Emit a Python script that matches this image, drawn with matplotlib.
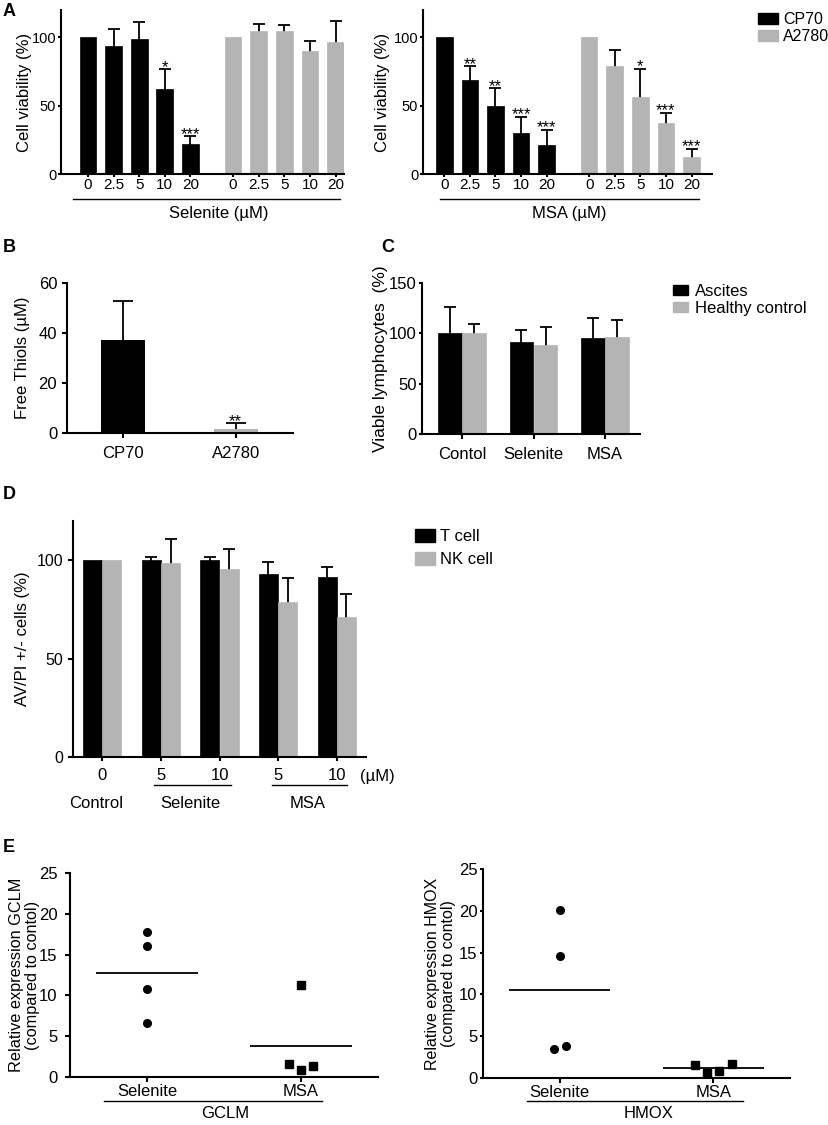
import numpy as np
import matplotlib
matplotlib.use("Agg")
import matplotlib.pyplot as plt
from matplotlib.patches import Patch

plt.rcParams['font.family'] = ['Liberation Sans', 'DejaVu Sans']

W, H = 829, 1125
DPI = 100
BLACK = "#000000"
GREY = "#b4b4b4"

# ---- A: cell viability, selenite / MSA ----
doses = ["0", "2.5", "5", "10", "20"]
selenite_cp70 = [100, 94, 99, 62, 22]
selenite_cp70_sd = [0, 12, 12, 14.5, 5.5]
selenite_a2780 = [100, 105, 105, 90, 96.5]
selenite_a2780_sd = [0, 4.5, 4, 7, 15.5]
selenite_cp70_sig = ["", "", "", "*", "***"]
selenite_a2780_sig = ["", "", "", "", ""]

msa_cp70 = [100, 69, 50, 30, 21]
msa_cp70_sd = [0, 10, 13, 12, 11.5]
msa_a2780 = [100, 79, 56, 37, 12.5]
msa_a2780_sd = [0, 11.5, 21, 8, 6]
msa_cp70_sig = ["", "**", "**", "***", "***"]
msa_a2780_sig = ["", "", "*", "***", "***"]

# ---- B: free thiols ----
thiol_lines = ["CP70", "A2780"]
thiol_vals = [37, 1.5]
thiol_sd = [16, 2.5]
thiol_sig = ["", "**"]

# ---- C: viable lymphocytes ----
lymph_groups = ["Contol", "Selenite", "MSA"]
ascites = [100, 91.5, 95.5]
ascites_sd = [26, 11.5, 19.5]
healthy = [100, 88.5, 96.5]
healthy_sd = [9, 17.5, 16.5]

# ---- D: AV/PI ----
d_ticks = ["0", "5", "10", "5", "10"]
t_cell = [100, 100, 100, 93.3, 91.3]
t_cell_sd = [0, 1.5, 1.5, 5.8, 5.5]
nk_cell = [100, 98.7, 95.7, 78.8, 71]
nk_cell_sd = [0, 12, 10, 12.4, 12]

# ---- E: relative expression ----
e_groups = ["Selenite", "MSA"]
gclm_selenite = [17.8, 16.0, 10.8, 6.6]
gclm_msa = [11.3, 1.55, 0.8, 1.35]
hmox_selenite = [20.1, 14.6, 3.5, 3.8]
hmox_msa = [1.5, 0.55, 0.85, 1.65]
# small horizontal spread of the dots (layout only)
gclm_sel_dx = [0, 0, 0, 0]
gclm_msa_dx = [0, -0.08, 0, 0.08]
hmox_sel_dx = [0, 0, -0.04, 0.04]
hmox_msa_dx = [-0.12, -0.04, 0.04, 0.12]

fig = plt.figure(figsize=(W / DPI, H / DPI), dpi=DPI)


def px_axes(left, right, top, bottom):
    return fig.add_axes([left / W, 1 - bottom / H, (right - left) / W, (bottom - top) / H])


def axes_y(ax, y_px):
    pos = ax.get_position()
    return ((1 - y_px / H) - pos.y0) / pos.height


def style(ax, lw=1.5):
    ax.spines[["top", "right"]].set_visible(False)
    ax.spines[["left", "bottom"]].set_linewidth(lw)
    ax.tick_params(width=lw, color="black")


def bars(ax, x, vals, sd, color, width, capsize=4):
    x = np.asarray(x, float)
    vals = np.asarray(vals, float)
    sd = np.asarray(sd, float)
    ax.bar(x, vals, width, color=color, edgecolor=color, linewidth=0.5, zorder=2)
    m = sd > 0
    # lower half sits behind the bar, so only the upper whisker shows
    ax.errorbar(x[m], vals[m], yerr=sd[m], fmt="none", ecolor="black", elinewidth=1.3,
                capsize=capsize, capthick=1.3, zorder=1)


def stars(ax, x, vals, sd, marks, fs=12):
    for xi, v, s, mk in zip(x, vals, sd, marks):
        if mk:
            ax.annotate(mk, (xi, v + s), xytext=(0, -2), textcoords="offset points",
                        ha="center", va="baseline", fontsize=fs)


def under_line(ax, x0, x1, y_px, lw=1.0):
    y = axes_y(ax, y_px)
    ax.plot([x0, x1], [y, y], color="black", lw=lw,
            transform=ax.get_xaxis_transform(), clip_on=False)


def under_text(ax, x, y_px, s, fs=12, ha="center"):
    ax.text(x, axes_y(ax, y_px), s, transform=ax.get_xaxis_transform(),
            ha=ha, va="center", fontsize=fs)


def ylabel(ax, s, x_px, fs=12):
    ax.set_ylabel(s, fontsize=fs, linespacing=1.05)
    pos = ax.get_position()
    ax.yaxis.set_label_coords((x_px / W - pos.x0) / pos.width, 0.5)


def letter(s, x_px, y_px):
    fig.text(x_px / W, 1 - y_px / H, s, fontsize=13, fontweight="bold", va="center", ha="left")


# ================= A =================
pos_a = np.r_[np.arange(5), np.arange(5) + 5.66]
panels_a = [
    dict(rect=(61, 344, 10, 174), xlim=(-1.05, 9.99), cp=selenite_cp70, cp_sd=selenite_cp70_sd,
         a2=selenite_a2780, a2_sd=selenite_a2780_sd, cp_sig=selenite_cp70_sig,
         a2_sig=selenite_a2780_sig, name="Selenite (\u00b5M)", line=(-0.6, pos_a[-1] + 0.17),
         name_x=5.1, lab_x=32),
    dict(rect=(423, 712, 10, 174), xlim=(-0.83, 10.46), cp=msa_cp70, cp_sd=msa_cp70_sd,
         a2=msa_a2780, a2_sd=msa_a2780_sd, cp_sig=msa_cp70_sig,
         a2_sig=msa_a2780_sig, name="MSA (\u00b5M)", line=(pos_a[0] - 0.17, pos_a[-1] + 0.3),
         name_x=4.9, lab_x=390),
]
for k, p in enumerate(panels_a):
    ax = px_axes(*p["rect"])
    style(ax)
    bars(ax, pos_a[:5], p["cp"], p["cp_sd"], BLACK, 0.65, capsize=4.5)
    bars(ax, pos_a[5:], p["a2"], p["a2_sd"], GREY, 0.65, capsize=4.5)
    stars(ax, pos_a[:5], p["cp"], p["cp_sd"], p["cp_sig"])
    stars(ax, pos_a[5:], p["a2"], p["a2_sd"], p["a2_sig"])
    ax.set_xlim(*p["xlim"])
    ax.set_ylim(0, 120)
    ax.set_yticks([0, 50, 100])
    ax.set_xticks(pos_a)
    ax.set_xticklabels(doses * 2)
    ax.tick_params(axis="x", length=2.2, pad=0.5, labelsize=11)
    ax.tick_params(axis="y", length=2.5, pad=1, labelsize=10.5)
    under_line(ax, p["line"][0], p["line"][1], 199)
    under_text(ax, p["name_x"], 213, p["name"], fs=12)
    ylabel(ax, "Cell viability (%)", p["lab_x"])
    if k == 1:
        handles = [Patch(color=BLACK), Patch(color=GREY)]
        ax.legend(handles, ["CP70", "A2780"], loc="upper left", frameon=False,
                  bbox_to_anchor=(758 / W, 1 - 12 / H), bbox_transform=fig.transFigure,
                  borderpad=0, borderaxespad=0, fontsize=11.5, handlelength=1.25,
                  handleheight=0.65, handletextpad=0.3, labelspacing=0.15)

# ================= B =================
ax = px_axes(67, 293, 283, 433)
style(ax)
xb = np.arange(len(thiol_lines))
ax.bar(xb, thiol_vals, 0.39, color=[BLACK, GREY], zorder=2)
ax.errorbar(xb, thiol_vals, yerr=thiol_sd, fmt="none", ecolor="black", elinewidth=1.3,
            capsize=7, capthick=1.3, zorder=1)
stars(ax, xb, thiol_vals, thiol_sd, thiol_sig)
ax.set_xlim(-0.5, 1.51)
ax.set_ylim(0, 60)
ax.set_yticks([0, 20, 40, 60])
ax.set_xticks(xb)
ax.set_xticklabels(thiol_lines)
ax.tick_params(axis="x", length=3.6, pad=6, labelsize=12)
ax.tick_params(axis="y", length=3.6, pad=3.5, labelsize=12)
ylabel(ax, "Free Thiols (\u00b5M)", 30)

# ================= C =================
ax = px_axes(422, 640, 283, 434)
style(ax)
xc = np.arange(len(lymph_groups))
bars(ax, xc - 0.17, ascites, ascites_sd, BLACK, 0.33, capsize=4.5)
bars(ax, xc + 0.17, healthy, healthy_sd, GREY, 0.33, capsize=4.5)
ax.set_xlim(-0.56, 2.49)
ax.set_ylim(0, 150)
ax.set_yticks([0, 50, 100, 150])
ax.set_xticks(xc)
ax.set_xticklabels(lymph_groups)
ax.tick_params(axis="x", length=3.6, pad=5.5, labelsize=12)
ax.tick_params(axis="y", length=2.2, pad=1.5, labelsize=12)
ylabel(ax, "Viable lymphocytes  (%)", 388, fs=12.5)
ax.legend([Patch(color=BLACK), Patch(color=GREY)], ["Ascites", "Healthy control"],
          loc="upper left", frameon=False, bbox_to_anchor=(673 / W, 1 - 284 / H),
          bbox_transform=fig.transFigure, borderpad=0, borderaxespad=0, fontsize=12,
          handlelength=0.9, handleheight=0.55, handletextpad=0.4, labelspacing=0.1)

# ================= D =================
ax = px_axes(73, 366, 521, 757)
style(ax)
xd = np.arange(len(d_ticks))
bars(ax, xd - 0.165, t_cell, t_cell_sd, BLACK, 0.325, capsize=4.5)
bars(ax, xd + 0.165, nk_cell, nk_cell_sd, GREY, 0.325, capsize=4.5)
ax.set_xlim(-0.5, 4.5)
ax.set_ylim(0, 120)
ax.set_yticks([0, 50, 100])
ax.set_xticks(xd)
ax.set_xticklabels(d_ticks)
ax.tick_params(axis="x", length=3, pad=5, labelsize=12)
ax.tick_params(axis="y", length=3.6, pad=3.5, labelsize=11.5)
ylabel(ax, "AV/PI +/- cells (%)", 30)
under_line(ax, xd[1] - 0.12, xd[2] + 0.19, 785)
under_line(ax, xd[3] - 0.11, xd[4] + 0.18, 785)
under_text(ax, xd[0] - 0.1, 803, "Control")
under_text(ax, (xd[1] + xd[2]) / 2, 803, "Selenite")
under_text(ax, (xd[3] + xd[4]) / 2, 803, "MSA")
under_text(ax, xd[4] + 0.39, 776, "(\u00b5M)", ha="left")
ax.legend([Patch(color=BLACK), Patch(color=GREY)], ["T cell", "NK cell"],
          loc="upper left", frameon=False, bbox_to_anchor=(415 / W, 1 - 529 / H),
          bbox_transform=fig.transFigure, borderpad=0, borderaxespad=0, fontsize=12,
          handlelength=1.2, handleheight=0.85, handletextpad=0.3, labelspacing=0.45)

# ================= E =================
panels_e = [
    dict(rect=(70, 378, 873, 1077), sel=gclm_selenite, msa=gclm_msa, sdx=gclm_sel_dx,
         mdx=gclm_msa_dx, gene="GCLM", line=(-0.277, 1.137), gene_x=0.508, lab_x=40,
         ylen=3.6, ypad=5.5, lab_fs=11.7),
    dict(rect=(483, 790, 869, 1078), sel=hmox_selenite, msa=hmox_msa, sdx=hmox_sel_dx,
         mdx=hmox_msa_dx, gene="HMOX", line=(-0.213, 1.195), gene_x=0.58, lab_x=456,
         ylen=2.2, ypad=1.8, lab_fs=11.5),
]
for p in panels_e:
    ax = px_axes(*p["rect"])
    style(ax)
    for i, (vals, dx, mk) in enumerate([(p["sel"], p["sdx"], "o"), (p["msa"], p["mdx"], "s")]):
        ax.plot(i + np.asarray(dx), vals, ls="none", marker=mk, ms=5.5, color="black",
                clip_on=False)
        ax.hlines(np.mean(vals), i - 0.33, i + 0.33, color="black", lw=1.3)
    ax.set_xlim(-0.5, 1.5)
    ax.set_ylim(0, 25)
    ax.set_yticks(range(0, 26, 5))
    ax.set_xticks(range(len(e_groups)))
    ax.set_xticklabels(e_groups)
    ax.tick_params(axis="x", length=3.6, pad=1.5, labelsize=12)
    ax.tick_params(axis="y", length=p["ylen"], pad=p["ypad"], labelsize=12)
    under_line(ax, p["line"][0], p["line"][1], 1101)
    under_text(ax, p["gene_x"], 1113, p["gene"])
    ylabel(ax, "Relative expression %s\n(compared to contol)" % p["gene"], p["lab_x"],
           fs=p["lab_fs"])

letter("A", 3, 12)
letter("B", 3, 248)
letter("C", 381, 248)
letter("D", 3, 495)
letter("E", 3, 847)

fig.savefig("out.png", dpi=DPI)
